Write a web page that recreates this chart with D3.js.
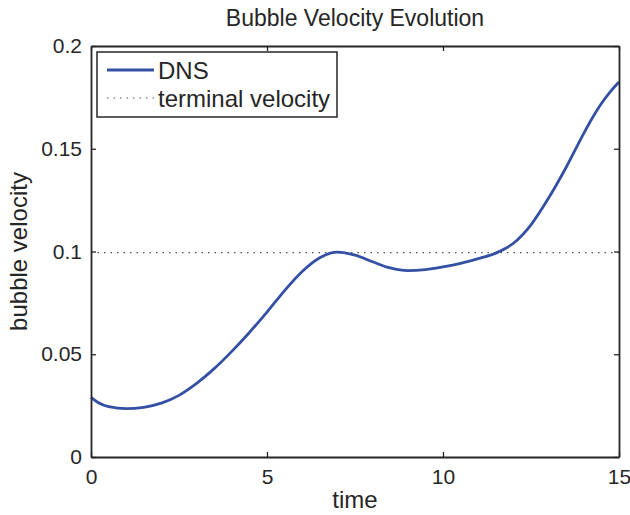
<!DOCTYPE html>
<html>
<head>
<meta charset="utf-8">
<script src="https://cdn.jsdelivr.net/npm/d3@7"></script>
<style>
  body { margin: 0; background: #fff; }
  svg { display: block; font-family: "Liberation Sans", Arial, sans-serif; }
</style>
</head>
<body>
<svg id="chart" width="630" height="515"></svg>
<script>
// time samples and DNS bubble velocity
const times = [0, 0.2, 0.5, 1, 1.5, 2, 2.5, 3, 3.5, 4, 4.5, 5, 5.5, 6, 6.5, 7, 7.5, 8,
  8.5, 9, 9.5, 10, 10.5, 11, 11.5, 12, 12.5, 13, 13.5, 14, 14.25, 14.5, 14.75, 15];
const velocity = [0.029, 0.0265, 0.0245, 0.0235, 0.0242, 0.0262, 0.0300, 0.0358, 0.0430,
  0.0514, 0.0606, 0.0705, 0.0810, 0.0903, 0.0970, 0.0997, 0.0982, 0.0950, 0.0920, 0.0907,
  0.0912, 0.0925, 0.0942, 0.0965, 0.0992, 0.1040, 0.1130, 0.1260, 0.1410, 0.1575, 0.1652,
  0.1720, 0.1777, 0.1825];
const terminalVelocity = 0.0995;

const xTicks = [0, 5, 10, 15];
const yTicks = [0, 0.05, 0.1, 0.15, 0.2];

const margin = { top: 46, right: 11, bottom: 58, left: 91 };
const width = 630;
const height = 515;
const lineColor = '#3450a4';
const axisColor = '#262626';
const dotColor = '#555';

const svg = d3.select('#chart');

const x = d3.scaleLinear().domain([0, 15]).range([margin.left, width - margin.right]);
const y = d3.scaleLinear().domain([0, 0.2]).range([height - margin.bottom, margin.top]);

const data = times.map((t, i) => ({ t, v: velocity[i] }));

// terminal velocity reference
svg.append('line')
  .attr('x1', x(0)).attr('x2', x(15))
  .attr('y1', y(terminalVelocity)).attr('y2', y(terminalVelocity))
  .attr('stroke', dotColor)
  .attr('stroke-width', 1.2)
  .attr('stroke-dasharray', '1.5,5');

// DNS curve
svg.append('path')
  .datum(data)
  .attr('fill', 'none')
  .attr('stroke', lineColor)
  .attr('stroke-width', 2.8)
  .attr('stroke-linejoin', 'round')
  .attr('d', d3.line().x((d) => x(d.t)).y((d) => y(d.v)).curve(d3.curveMonotoneX));

// axes box with inward ticks on all sides
const tickLen = 5;
const xAxis = (g) => {
  g.attr('transform', `translate(0,${height - margin.bottom})`)
    .call(d3.axisBottom(x).tickValues(xTicks).tickSizeInner(-tickLen).tickSizeOuter(0).tickPadding(12));
};
const yAxis = (g) => {
  g.attr('transform', `translate(${margin.left},0)`)
    .call(d3.axisLeft(y).tickValues(yTicks).tickFormat((d) => String(+d.toFixed(2)))
      .tickSizeInner(-tickLen).tickSizeOuter(0).tickPadding(9));
};
const xTop = (g) => {
  g.attr('transform', `translate(0,${margin.top})`)
    .call(d3.axisTop(x).tickValues(xTicks).tickSizeInner(-tickLen).tickSizeOuter(0).tickFormat(''));
};
const yRight = (g) => {
  g.attr('transform', `translate(${width - margin.right},0)`)
    .call(d3.axisRight(y).tickValues(yTicks).tickSizeInner(-tickLen).tickSizeOuter(0).tickFormat(''));
};

[xAxis, yAxis, xTop, yRight].forEach((fn) => {
  svg.append('g').call(fn)
    .call((g) => {
      g.select('.domain').attr('stroke', axisColor).attr('stroke-width', 1.8);
      g.selectAll('.tick line').attr('stroke', axisColor).attr('stroke-width', 1.3);
      g.selectAll('.tick text').attr('fill', axisColor)
        .style('font-family', '"Liberation Sans", Arial, sans-serif')
        .style('font-size', '21px');
    });
});

// titles
svg.append('text')
  .attr('x', 355)
  .attr('y', 26)
  .attr('text-anchor', 'middle')
  .attr('fill', axisColor)
  .style('font-size', '23px')
  .text('Bubble Velocity Evolution');

svg.append('text')
  .attr('x', (margin.left + width - margin.right) / 2)
  .attr('y', 508)
  .attr('text-anchor', 'middle')
  .attr('fill', axisColor)
  .style('font-size', '24px')
  .text('time');

svg.append('text')
  .attr('transform', `translate(27,${(margin.top + height - margin.bottom) / 2}) rotate(-90)`)
  .attr('text-anchor', 'middle')
  .attr('fill', axisColor)
  .style('font-size', '24px')
  .text('bubble velocity');

// legend
const legend = svg.append('g').attr('transform', 'translate(97,52)');
legend.append('rect')
  .attr('width', 240).attr('height', 65)
  .attr('fill', '#fff')
  .attr('stroke', axisColor)
  .attr('stroke-width', 1.5);
legend.append('line')
  .attr('x1', 10).attr('x2', 57).attr('y1', 18).attr('y2', 18)
  .attr('stroke', lineColor).attr('stroke-width', 2.8);
legend.append('text')
  .attr('x', 61).attr('y', 27)
  .attr('fill', axisColor)
  .style('font-size', '24px')
  .text('DNS');
legend.append('line')
  .attr('x1', 10).attr('x2', 57).attr('y1', 46).attr('y2', 46)
  .attr('stroke', dotColor).attr('stroke-width', 1.2).attr('stroke-dasharray', '1.5,5');
legend.append('text')
  .attr('x', 61).attr('y', 55)
  .attr('fill', axisColor)
  .style('font-size', '24px')
  .text('terminal velocity');
</script>
</body>
</html>
